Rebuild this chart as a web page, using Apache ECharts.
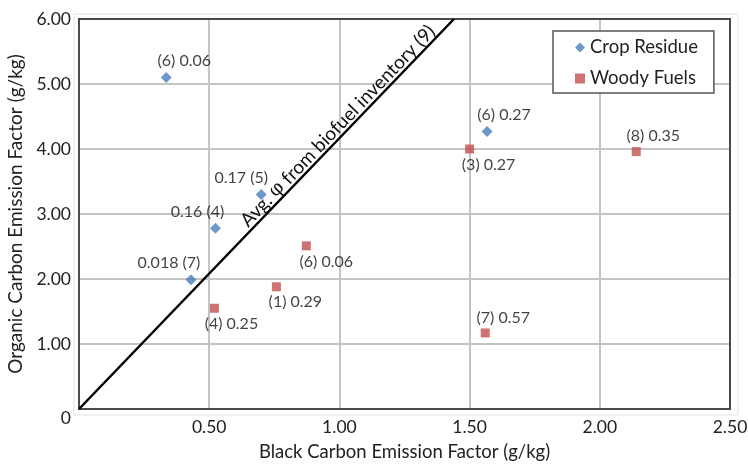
<!DOCTYPE html>
<html>
<head>
<meta charset="utf-8">
<script src="https://cdn.jsdelivr.net/npm/echarts@6/dist/echarts.min.js"></script>
<style>
html,body{margin:0;padding:0;background:#fff;}
#chart{width:748px;height:464px;}
</style>
</head>
<body>
<div id="chart"></div>
<script>
// ---- data ----
const cropBC = [0.335, 0.70, 0.524, 0.43, 1.567];
const cropOC = [5.10, 3.30, 2.78, 1.99, 4.27];
const cropLabels = ['(6) 0.06', '0.17 (5)', '0.16 (4)', '0.018 (7)', '(6) 0.27'];

const woodBC = [1.50, 2.14, 0.873, 0.758, 0.52, 1.56];
const woodOC = [4.00, 3.96, 2.51, 1.88, 1.55, 1.17];
const woodLabels = ['(3) 0.27', '(8) 0.35', '(6) 0.06', '(1) 0.29', '(4) 0.25', '(7) 0.57'];

const avgLineX = [0, 1.44];
const avgLineY = [0, 6];
const avgLineLabel = 'Avg. {phi|φ} from biofuel inventory (9)';

const xTicks = [0, 0.5, 1.0, 1.5, 2.0, 2.5];
const yTicks = [0, 1, 2, 3, 4, 5, 6];

// ---- label placement (style) ----
const cropLabelPlace = [['top', 18], ['top', -20], ['top', -18], ['top', -22], ['top', 17]];
const woodLabelPlace = [['bottom', 19], ['top', 17], ['bottom', 20], ['bottom', 19], ['bottom', 17], ['top', 18]];

const FONT = 'Lato';

function buildPoints(xs, ys, labels, place) {
  return xs.map((x, i) => ({
    value: [x, ys[i]],
    label: {
      show: true,
      formatter: labels[i],
      position: place[i][0],
      offset: [place[i][1], 0],
      distance: 3
    }
  }));
}

const chart = echarts.init(document.getElementById('chart'));
const option = {
  animation: false,
  textStyle: { fontFamily: FONT },
  grid: [
    { left: 79, top: 19, right: 18, bottom: 55, show: true, borderColor: '#4a4a4a', borderWidth: 2, backgroundColor: 'transparent', z: 1, containLabel: false, outerBoundsMode: 'none' },
    { left: 74, top: 14, right: 10, bottom: 49, show: true, borderColor: '#e2e2e2', borderWidth: 1, backgroundColor: 'transparent', z: 0, containLabel: false, outerBoundsMode: 'none' }
  ],
  xAxis: [
    {
      type: 'value', gridIndex: 0,
      min: xTicks[0], max: xTicks[xTicks.length - 1], interval: 0.5,
      name: 'Black Carbon Emission Factor (g/kg)',
      nameLocation: 'middle', nameGap: 34,
      nameTextStyle: { fontFamily: FONT, fontSize: 18.5, color: '#222' },
      axisLine: { show: true, lineStyle: { color: '#9a9a9a', width: 2 } },
      axisTick: { show: false },
      axisLabel: {
        fontFamily: FONT, fontSize: 17.5, color: '#222', margin: 9,
        formatter: v => v === 0 ? '' : v.toFixed(2)
      },
      splitLine: { show: true, lineStyle: { color: '#c4c4c4', width: 2 } }
    },
    { type: 'value', gridIndex: 1, show: false, min: 0, max: 1 }
  ],
  yAxis: [
    {
      type: 'value', gridIndex: 0,
      min: yTicks[0], max: yTicks[yTicks.length - 1], interval: 1,
      name: 'Organic Carbon Emission Factor (g/kg)',
      nameLocation: 'middle', nameGap: 50,
      nameTextStyle: { fontFamily: FONT, fontSize: 19, color: '#222' },
      axisLine: { show: true, lineStyle: { color: '#9a9a9a', width: 2 } },
      axisTick: { show: false },
      axisLabel: {
        fontFamily: FONT, fontSize: 17.5, color: '#222', margin: 8,
        formatter: v => v === 0 ? '{z|0}' : v.toFixed(2),
        rich: { z: { fontFamily: FONT, fontSize: 17.5, color: '#222', padding: [18, 0, 0, 0] } }
      },
      splitLine: { show: true, lineStyle: { color: '#c4c4c4', width: 2 } }
    },
    { type: 'value', gridIndex: 1, show: false, min: 0, max: 1 }
  ],
  legend: {
    data: ['Crop Residue', 'Woody Fuels'],
    orient: 'vertical',
    left: 553, top: 31,
    padding: [7, 16, 5, 22],
    itemGap: 12,
    itemWidth: 10, itemHeight: 10,
    borderColor: '#555', borderWidth: 1.5,
    backgroundColor: '#fff',
    textStyle: { fontFamily: FONT, fontSize: 18.5, color: '#222' }
  },
  series: [
    {
      name: 'Avg line',
      type: 'line',
      xAxisIndex: 0, yAxisIndex: 0,
      data: avgLineX.map((x, i) => [x, avgLineY[i]]),
      showSymbol: false,
      lineStyle: { color: '#000', width: 0 },
      silent: true,
      z: 3,
      markLine: {
        silent: true,
        symbol: 'none',
        lineStyle: { color: '#000', width: 2.5, type: 'solid' },
        label: {
          show: true,
          position: 'insideEndTop',
          distance: [22, 0],
          formatter: avgLineLabel,
          fontFamily: FONT, fontSize: 19, color: '#111',
          rich: { phi: { fontFamily: 'DejaVu Serif', fontSize: 19, color: '#111' } }
        },
        data: [[{ coord: [avgLineX[0], avgLineY[0]] }, { coord: [avgLineX[1], avgLineY[1]] }]]
      }
    },
    {
      name: 'Crop Residue',
      type: 'scatter',
      symbol: 'diamond',
      symbolSize: [11, 11],
      itemStyle: { color: '#4a7ebb' },
      label: { fontFamily: FONT, fontSize: 16, color: '#111' },
      data: buildPoints(cropBC, cropOC, cropLabels, cropLabelPlace),
      z: 4
    },
    {
      name: 'Woody Fuels',
      type: 'scatter',
      symbol: 'rect',
      symbolSize: 9,
      itemStyle: { color: '#c0504d' },
      label: { fontFamily: FONT, fontSize: 16, color: '#111' },
      data: buildPoints(woodBC, woodOC, woodLabels, woodLabelPlace),
      z: 4
    }
  ]
};
chart.setOption(option);
</script>
</body>
</html>
